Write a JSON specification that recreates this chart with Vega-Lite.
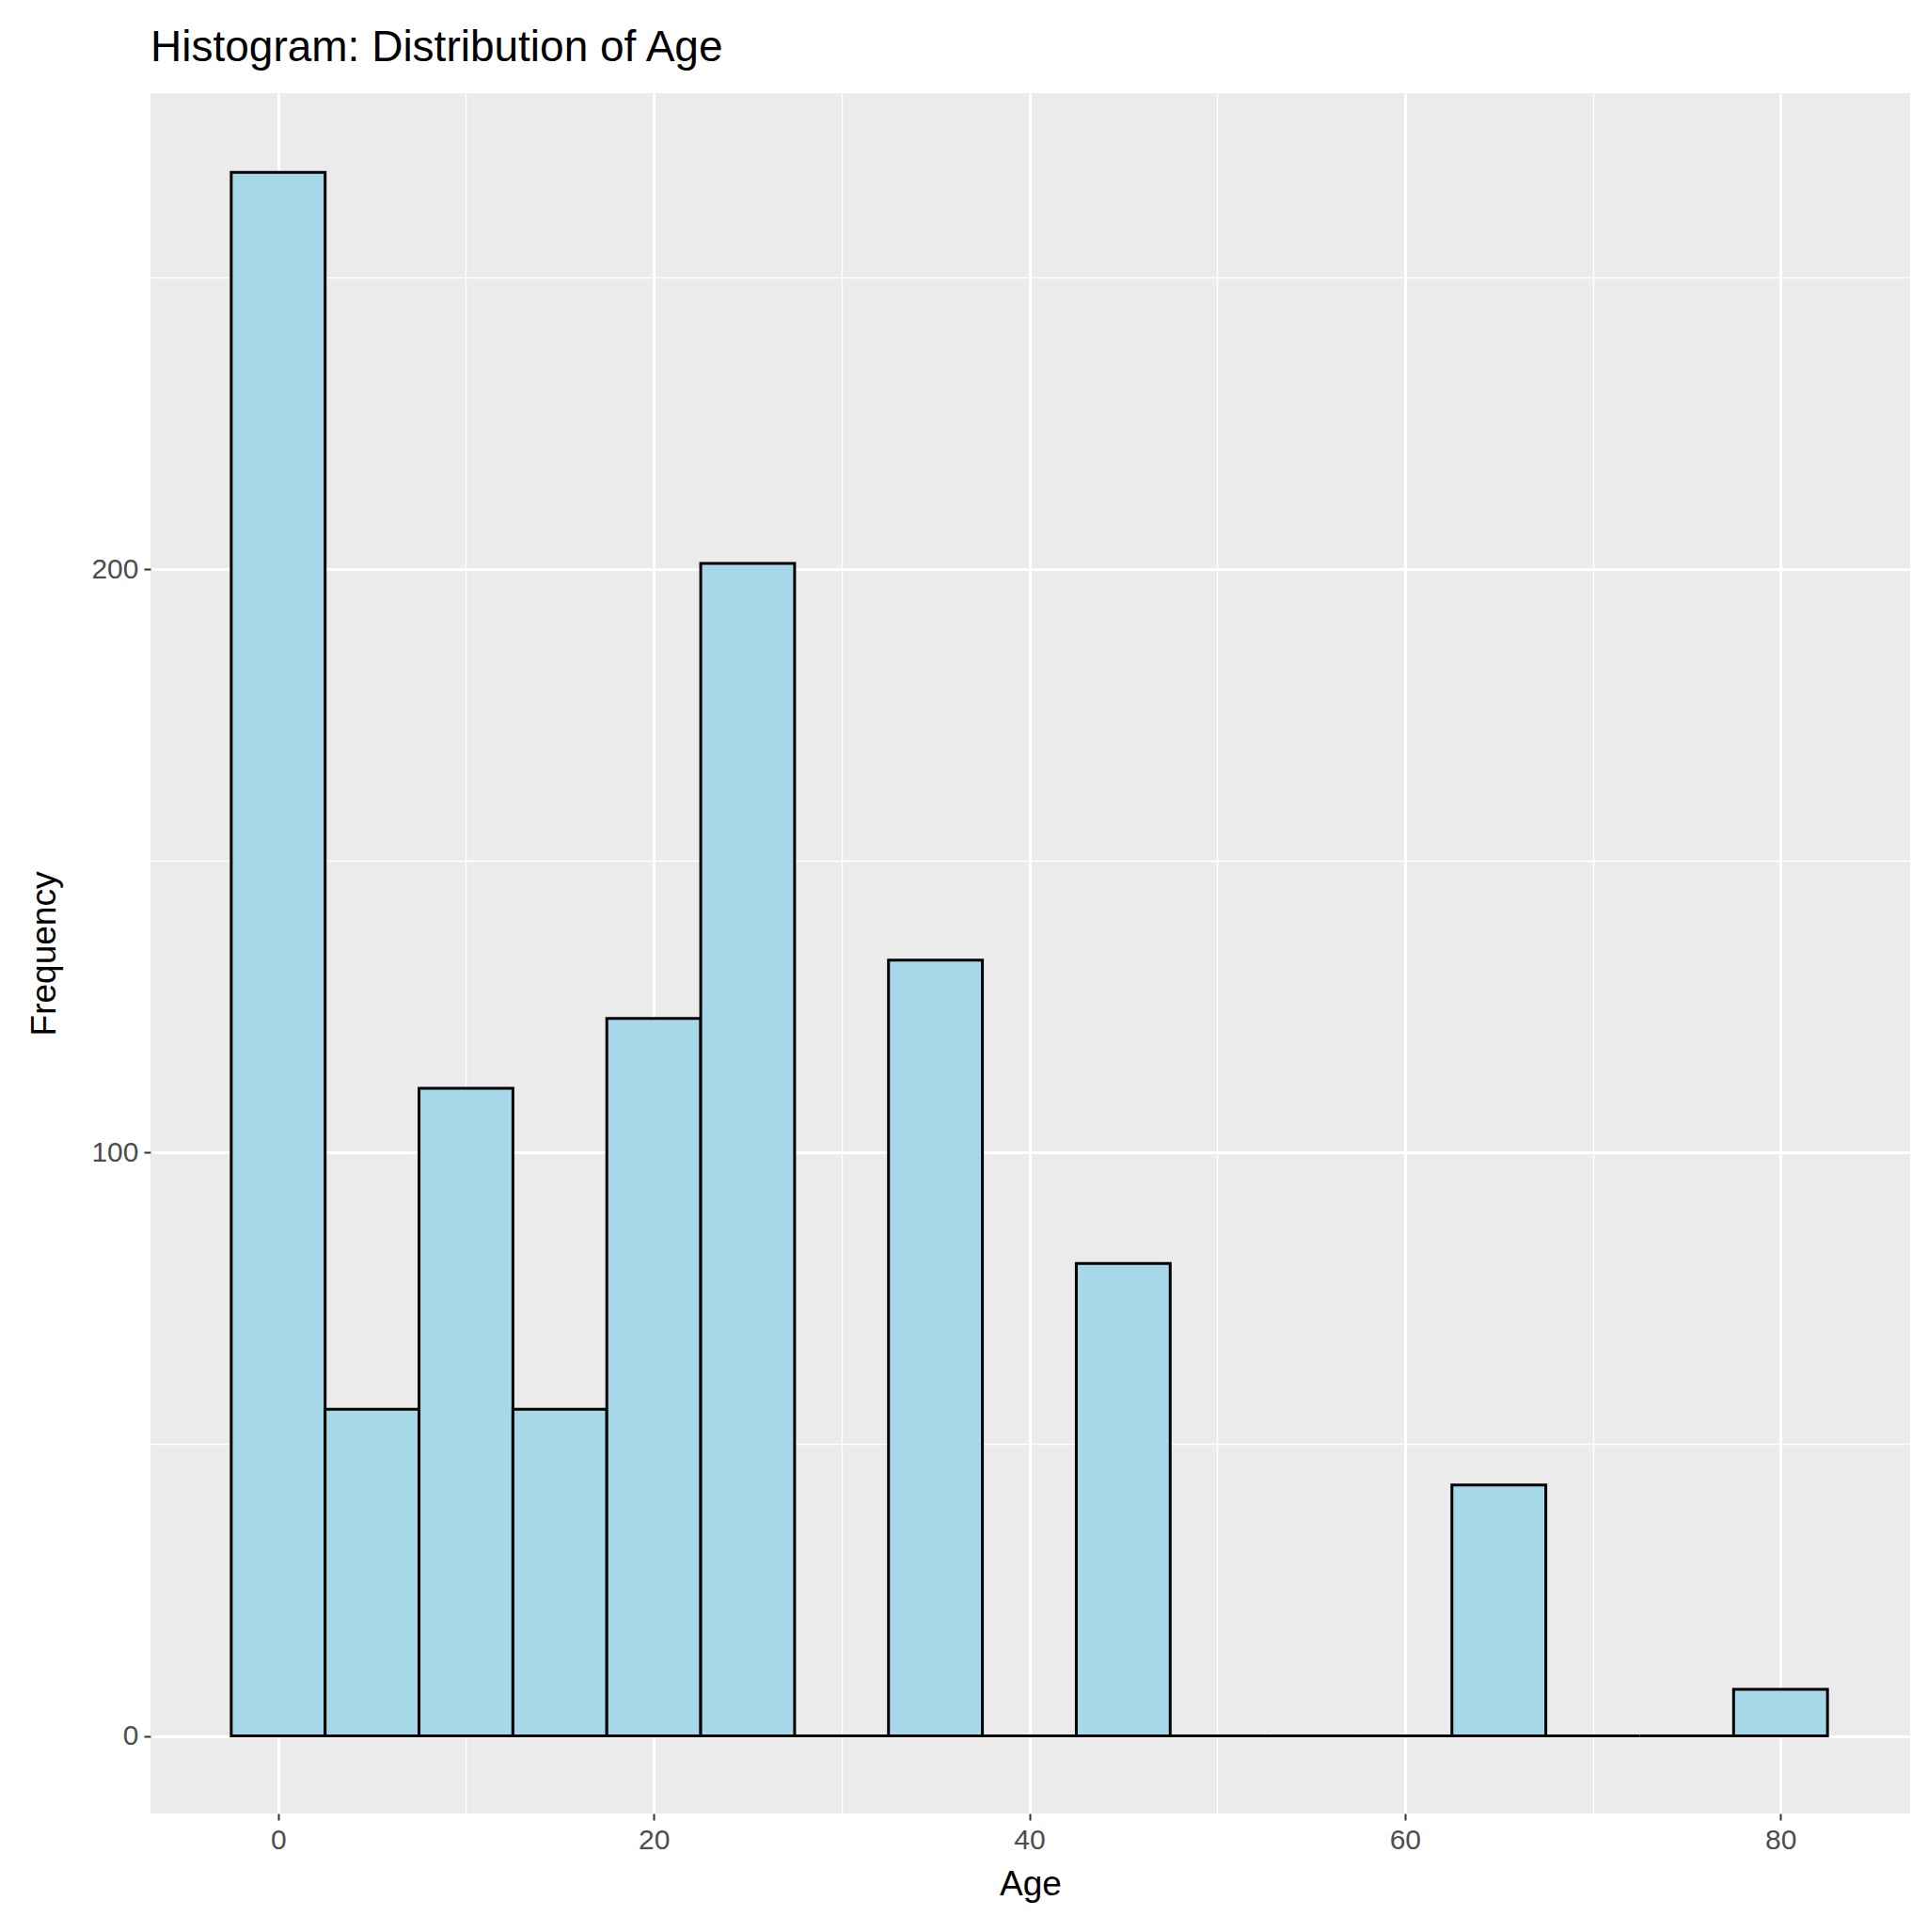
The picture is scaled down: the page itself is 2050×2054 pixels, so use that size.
{
  "$schema": "https://vega.github.io/schema/vega-lite/v6.json",
  "autosize": {"type": "none"},
  "padding": {"left": 160, "top": 99, "right": 19, "bottom": 126},
  "width": 1871,
  "height": 1829,
  "background": "white",
  "view": {"fill": "#ebebeb", "stroke": null},
  "title": {"text": "Histogram: Distribution of Age", "anchor": "start", "frame": "group", "fontSize": 46, "font": "Liberation Sans", "fontWeight": "normal", "color": "black", "offset": 24},
  "data": {"values": [
    {"b0": -2.5, "b1": 2.5, "count": 268},
    {"b0": 2.5, "b1": 7.5, "count": 56},
    {"b0": 7.5, "b1": 12.5, "count": 111},
    {"b0": 12.5, "b1": 17.5, "count": 56},
    {"b0": 17.5, "b1": 22.5, "count": 123},
    {"b0": 22.5, "b1": 27.5, "count": 201},
    {"b0": 27.5, "b1": 32.5, "count": 0},
    {"b0": 32.5, "b1": 37.5, "count": 133},
    {"b0": 37.5, "b1": 42.5, "count": 0},
    {"b0": 42.5, "b1": 47.5, "count": 81},
    {"b0": 47.5, "b1": 52.5, "count": 0},
    {"b0": 52.5, "b1": 57.5, "count": 0},
    {"b0": 57.5, "b1": 62.5, "count": 0},
    {"b0": 62.5, "b1": 67.5, "count": 43},
    {"b0": 67.5, "b1": 72.5, "count": 0},
    {"b0": 72.5, "b1": 77.5, "count": 0},
    {"b0": 77.5, "b1": 82.5, "count": 8}
  ]},
  "layer": [
    {
      "mark": {"type": "rule", "strokeOpacity": 0},
      "encoding": {
        "x": {"field": "b0", "type": "quantitative", "scale": {"domain": [-6.8, 86.9], "nice": false, "zero": false},
          "axis": {"orient": "top", "values": [10, 30, 50, 70], "labels": false, "ticks": false, "domain": false, "title": null, "grid": true, "gridColor": "white", "gridWidth": 1.5}},
        "y": {"field": "count", "type": "quantitative", "scale": {"domain": [-13.3, 281.6], "nice": false, "zero": false},
          "axis": {"orient": "right", "values": [50, 150, 250], "labels": false, "ticks": false, "domain": false, "title": null, "grid": true, "gridColor": "white", "gridWidth": 1.5}}
      }
    },
    {
      "mark": {"type": "bar", "fill": "#a6d8ea", "stroke": "black", "strokeWidth": 3},
      "encoding": {
        "x": {"field": "b0", "type": "quantitative",
          "axis": {"values": [0, 20, 40, 60, 80], "title": "Age", "titleFontSize": 37, "titleFont": "Liberation Sans", "titleFontWeight": "normal", "titleColor": "black", "titlePadding": 14,
            "labelFontSize": 30, "labelFont": "Liberation Sans", "labelColor": "#4d4d4d", "labelPadding": 6,
            "domain": false, "tickColor": "#333333", "tickSize": 7, "tickWidth": 2, "grid": true, "gridColor": "white", "gridWidth": 3}},
        "x2": {"field": "b1"},
        "y": {"field": "count", "type": "quantitative",
          "axis": {"values": [0, 100, 200], "title": "Frequency", "titleFontSize": 37, "titleFont": "Liberation Sans", "titleFontWeight": "normal", "titleColor": "black", "titlePadding": 30,
            "labelFontSize": 30, "labelFont": "Liberation Sans", "labelColor": "#4d4d4d", "labelPadding": 6,
            "domain": false, "tickColor": "#333333", "tickSize": 7, "tickWidth": 2, "grid": true, "gridColor": "white", "gridWidth": 3}},
        "y2": {"datum": 0}
      }
    }
  ],
  "resolve": {"axis": {"x": "independent", "y": "independent"}}
}
